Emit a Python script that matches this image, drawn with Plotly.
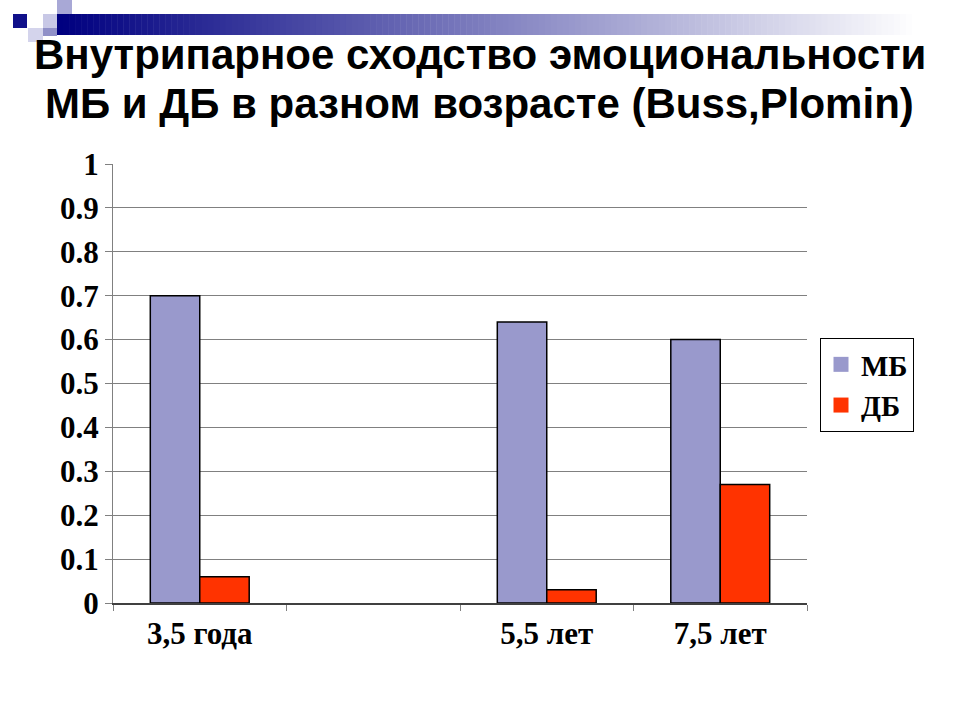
import plotly.graph_objects as go

# ---- data ----
categories = ["3,5 года", " ", "5,5 лет", "7,5 лет"]
mb_values = [0.70, None, 0.64, 0.60]
db_values = [0.06, None, 0.03, 0.27]
series_names = ["МБ", "ДБ"]
y_ticks = [0, 0.1, 0.2, 0.3, 0.4, 0.5, 0.6, 0.7, 0.8, 0.9, 1]
y_tick_text = ["0", "0.1", "0.2", "0.3", "0.4", "0.5", "0.6", "0.7", "0.8", "0.9", "1"]
title_lines = ["Внутрипарное сходство эмоциональности", "МБ и ДБ в разном возрасте (Buss,Plomin)"]

MB_COLOR = "#9999CC"
DB_COLOR = "#FF3300"
SERIF = "Liberation Serif, Times New Roman, serif"
SANS = "Liberation Sans, Arial, sans-serif"

W, H = 960, 720
L, R, T, B = 113, 807, 164, 603  # plot area in pixels


def px(x):
    return (x - L) / (R - L)


def py(y):
    return (B - y) / (B - T)


fig = go.Figure()
fig.add_trace(go.Bar(x=categories, y=mb_values, name=series_names[0], showlegend=False,
                     marker=dict(color=MB_COLOR, line=dict(color="black", width=1.5))))
fig.add_trace(go.Bar(x=categories, y=db_values, name=series_names[1], showlegend=False,
                     marker=dict(color=DB_COLOR, line=dict(color="black", width=1.5))))
# legend-only entries (no border on the swatch)
for name, col in zip(series_names, [MB_COLOR, DB_COLOR]):
    fig.add_trace(go.Scatter(x=[None], y=[None], mode="markers", name=f"<b>{name}</b>",
                             marker=dict(symbol="square", size=15, color=col)))

shapes = []
# gradient band at the top
x0b, x1b, y0b, y1b = 57, 960, 14, 35
n = 150
for i in range(n):
    f = i / (n - 1)
    fe = min(1.0, f * 1.05)
    r = int(0 + (255 - 0) * fe)
    g = int(0 + (255 - 0) * fe)
    b = int(128 + (255 - 128) * fe)
    xa = x0b + (x1b - x0b) * i / n
    xb = x0b + (x1b - x0b) * (i + 1) / n + 0.5
    shapes.append(dict(type="rect", xref="paper", yref="paper",
                       x0=px(xa), x1=px(xb), y0=py(y1b), y1=py(y0b),
                       fillcolor=f"rgb({r},{g},{b})", line=dict(width=0), layer="below"))
# decorative squares
squares = [
    (13, 14, 27, 28, "#10108a"),
    (43, 14, 57, 28, "#c8c8e6"),
    (57, 0, 72, 14, "#a8a8d6"),
    (28, 28, 43, 42, "#d4d4ec"),
    (43, 28, 57, 36, "#9090c8"),
]
for xa, ya, xb, yb, col in squares:
    shapes.append(dict(type="rect", xref="paper", yref="paper",
                       x0=px(xa), x1=px(xb), y0=py(yb), y1=py(ya),
                       fillcolor=col, line=dict(width=0), layer="below"))

annotations = []
for line, yc in zip(title_lines, [55, 104]):
    annotations.append(dict(text=f"<b>{line}</b>", xref="paper", yref="paper",
                            x=px(480), y=py(yc), xanchor="center", yanchor="middle",
                            showarrow=False, font=dict(family=SANS, size=42, color="black")))

fig.update_layout(
    width=W, height=H,
    margin=dict(l=L, r=W - R, t=T, b=H - B, pad=0),
    paper_bgcolor="white", plot_bgcolor="white",
    barmode="group", bargap=0.43, bargroupgap=0,
    shapes=shapes, annotations=annotations,
    showlegend=True,
    legend=dict(x=px(820), y=py(338), xanchor="left", yanchor="top",
                bordercolor="black", borderwidth=1, bgcolor="white",
                font=dict(family=SERIF, size=29, color="black"),
                itemsizing="trace", tracegroupgap=4),
    xaxis=dict(type="category", range=[-0.5, 3.5], showgrid=False,
               showline=True, linecolor="#404040", linewidth=1.5,
               ticks="outside", tickson="boundaries", ticklen=6, tickcolor="#808080",
               ticklabelstandoff=2,
               tickfont=dict(family=SERIF, size=31, color="black"), fixedrange=True),
    yaxis=dict(range=[0, 1], tickvals=y_ticks, ticktext=[f"<b>{t}</b>" for t in y_tick_text],
               showgrid=True, gridcolor="#808080", gridwidth=1,
               showline=True, linecolor="#808080", linewidth=1,
               ticks="outside", ticklen=7, tickcolor="#808080",
               zeroline=False,
               tickfont=dict(family=SERIF, size=31, color="black"), fixedrange=True),
)
fig.update_xaxes(ticktext=[f"<b>{c}</b>" for c in categories], tickvals=categories)

fig.write_html("out.html", config={"displayModeBar": False},
               post_script="document.body.style.margin='0';")
